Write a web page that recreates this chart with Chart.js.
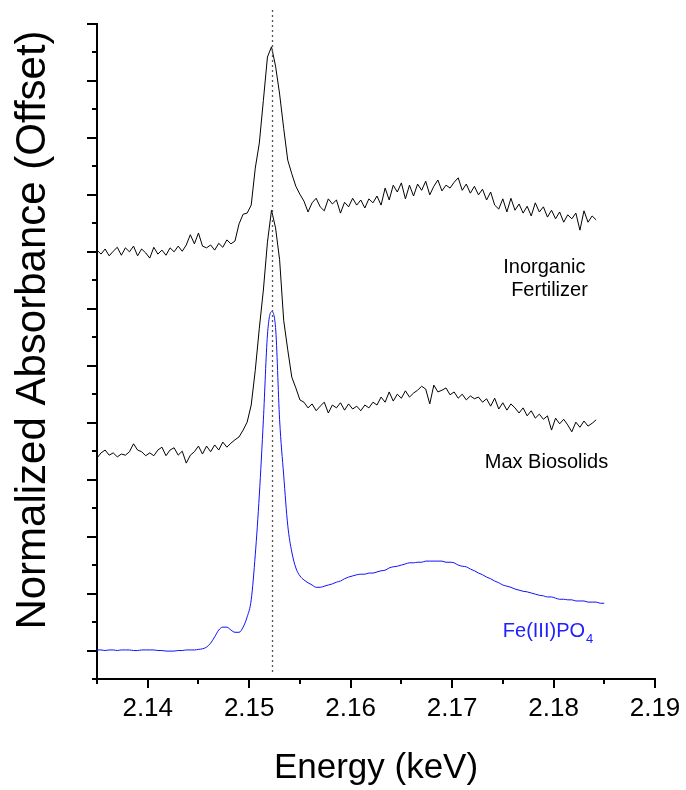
<!DOCTYPE html>
<html><head><meta charset="utf-8">
<script src="https://cdn.jsdelivr.net/npm/chart.js@4.4.1/dist/chart.umd.min.js"></script>
<style>html,body{margin:0;padding:0;background:#fff;}canvas{display:block;}</style>
</head><body>
<canvas id="c" width="686" height="790"></canvas>
<script>
// Energy grid (keV)
const energy = [
2.1350,2.1354,2.1358,2.1362,2.1366,2.1370,2.1374,2.1378,2.1382,2.1386,
2.1390,2.1394,2.1398,2.1402,2.1406,2.1410,2.1414,2.1418,2.1422,2.1426,
2.1430,2.1434,2.1438,2.1442,2.1446,2.1450,2.1454,2.1458,2.1462,2.1466,
2.1470,2.1474,2.1478,2.1482,2.1486,2.1490,2.1494,2.1498,2.1502,2.1506,
2.1510,2.1514,2.1518,2.1522,2.1526,2.1530,2.1534,2.1538,2.1542,2.1546,
2.1550,2.1554,2.1558,2.1562,2.1566,2.1570,2.1574,2.1578,2.1582,2.1586,
2.1590,2.1594,2.1598,2.1602,2.1606,2.1610,2.1614,2.1618,2.1622,2.1626,
2.1630,2.1634,2.1638,2.1642,2.1646,2.1650,2.1654,2.1658,2.1662,2.1666,
2.1670,2.1674,2.1678,2.1682,2.1686,2.1690,2.1694,2.1698,2.1702,2.1706,
2.1710,2.1714,2.1718,2.1722,2.1726,2.1730,2.1734,2.1738,2.1742,2.1746,
2.1750,2.1754,2.1758,2.1762,2.1766,2.1770,2.1774,2.1778,2.1782,2.1786,
2.1790,2.1794,2.1798,2.1802,2.1806,2.1810,2.1814,2.1818,2.1822,2.1826,
2.1830,2.1834,2.1838,2.1842,2.1846,2.1850
];
// Normalized absorbance (offset)
const inorganicFertilizer = [
7.03,6.96,7.05,6.93,7.01,7.08,6.94,7.07,7.00,7.10,
6.93,7.05,6.98,6.89,7.08,6.96,7.03,6.94,7.07,7.00,
7.10,7.01,7.12,7.30,7.14,7.33,7.10,7.07,7.12,7.03,
7.15,7.08,7.21,7.14,7.19,7.49,7.66,7.68,7.82,8.47,
8.91,9.66,10.42,10.60,10.26,9.77,9.17,8.61,8.37,8.15,
8.01,7.89,7.70,7.86,7.94,7.79,7.72,7.93,7.84,7.91,
7.68,7.87,7.79,7.94,7.82,7.91,7.77,7.93,7.86,7.98,
7.82,8.12,7.91,8.17,8.05,8.21,7.93,8.17,7.98,8.19,
8.08,8.24,8.00,8.15,8.26,8.07,8.17,8.12,8.22,8.30,
8.08,8.19,8.03,8.15,8.00,8.10,7.91,8.05,7.82,7.75,
7.93,7.70,7.94,7.73,7.84,7.68,7.80,7.63,7.86,7.70,
7.79,7.61,7.73,7.58,7.70,7.52,7.65,7.58,7.68,7.38,
7.72,7.52,7.63,7.56
];
const maxBiosolids = [
3.38,3.47,3.52,3.43,3.47,3.40,3.45,3.43,3.49,3.63,
3.52,3.49,3.42,3.47,3.42,3.52,3.57,3.42,3.52,3.56,
3.43,3.50,3.29,3.43,3.49,3.59,3.45,3.59,3.49,3.61,
3.52,3.66,3.57,3.64,3.70,3.75,3.87,4.01,4.31,4.92,
5.66,6.33,7.17,7.73,7.42,6.86,5.80,5.28,4.80,4.61,
4.40,4.36,4.26,4.33,4.21,4.29,4.36,4.17,4.31,4.26,
4.35,4.22,4.33,4.24,4.29,4.21,4.31,4.26,4.36,4.31,
4.45,4.36,4.54,4.38,4.50,4.43,4.56,4.45,4.52,4.57,
4.64,4.59,4.33,4.66,4.54,4.57,4.61,4.49,4.54,4.43,
4.50,4.40,4.47,4.42,4.45,4.36,4.42,4.29,4.43,4.24,
4.35,4.22,4.33,4.26,4.17,4.26,4.12,4.21,4.08,4.15,
4.06,4.12,3.87,4.08,3.98,4.06,3.96,3.84,4.01,3.92,
4.03,3.94,3.99,4.05
];
const fePO4 = [
0.01,0.01,0.00,0.01,0.01,0.00,0.01,0.01,0.01,0.00,
0.00,0.01,0.01,0.01,0.01,0.00,0.00,-0.01,-0.01,-0.01,
0.00,0.00,0.01,0.01,0.01,0.02,0.03,0.06,0.13,0.24,
0.36,0.41,0.41,0.36,0.32,0.32,0.41,0.59,0.89,1.68,
2.73,4.05,5.54,5.95,5.67,4.05,3.08,2.20,1.73,1.45,
1.31,1.24,1.19,1.15,1.11,1.11,1.13,1.15,1.17,1.20,
1.22,1.26,1.29,1.31,1.33,1.34,1.34,1.36,1.36,1.38,
1.40,1.41,1.45,1.47,1.48,1.50,1.52,1.54,1.54,1.55,
1.55,1.57,1.57,1.57,1.57,1.57,1.55,1.55,1.54,1.50,
1.48,1.47,1.43,1.40,1.36,1.33,1.29,1.26,1.22,1.19,
1.15,1.13,1.11,1.08,1.06,1.04,1.03,1.01,0.99,0.97,
0.96,0.94,0.94,0.92,0.90,0.90,0.89,0.89,0.87,0.87,
0.87,0.85,0.85,0.85,0.83,0.83
];
const xTickLabels = ['2.14','2.15','2.16','2.17','2.18','2.19'];
const seriesNames = ['Inorganic Fertilizer','Max Biosolids','Fe(III)PO4'];
const referenceEnergy = 2.1522;

const FONT = '"Liberation Sans", Arial, Helvetica, sans-serif';
const pts = (vals) => vals.map((v, i) => ({x: energy[i], y: v}));

const decor = {
  id: 'decor',
  afterDraw(chart) {
    const ctx = chart.ctx, xs = chart.scales.x, ys = chart.scales.y;
    const area = chart.chartArea;
    ctx.save();
    // ticks
    ctx.strokeStyle = '#000'; ctx.lineWidth = 2;
    xs.ticks.forEach(t => {
      const v = t.value;
      const major = Math.abs(v * 100 - Math.round(v * 100)) < 1e-6;
      const px = Math.round(xs.getPixelForValue(v));
      ctx.beginPath(); ctx.moveTo(px, area.bottom); ctx.lineTo(px, area.bottom + (major ? 9 : 5)); ctx.stroke();
    });
    ys.ticks.forEach(t => {
      const v = t.value;
      const major = Math.abs(v - Math.round(v)) < 1e-6;
      const py = Math.round(ys.getPixelForValue(v));
      ctx.beginPath(); ctx.moveTo(area.left, py); ctx.lineTo(area.left - (major ? 10 : 5), py); ctx.stroke();
    });
    // dotted reference line
    const dx = Math.round(xs.getPixelForValue(referenceEnergy)) + 0.5;
    ctx.strokeStyle = '#555'; ctx.lineWidth = 1.3; ctx.setLineDash([2, 3]);
    ctx.beginPath(); ctx.moveTo(dx, 10); ctx.lineTo(dx, 672); ctx.stroke();
    ctx.setLineDash([]);
    // series labels
    ctx.font = '20px ' + FONT; ctx.fillStyle = '#000'; ctx.textBaseline = 'middle'; ctx.textAlign = 'center';
    const parts = seriesNames[0].split(' ');
    ctx.fillText(parts[0], xs.getPixelForValue(2.1791), ys.getPixelForValue(6.72));
    ctx.fillText(parts[1], xs.getPixelForValue(2.1796), ys.getPixelForValue(6.33));
    ctx.fillText(seriesNames[1], xs.getPixelForValue(2.1793), ys.getPixelForValue(3.31));
    ctx.fillStyle = '#2020ff'; ctx.textAlign = 'left';
    const fx = xs.getPixelForValue(2.1750), fy = ys.getPixelForValue(0.33);
    const main = seriesNames[2].slice(0, -1), sub = seriesNames[2].slice(-1);
    ctx.fillText(main, fx, fy);
    const w = ctx.measureText(main).width;
    ctx.font = '13px ' + FONT;
    ctx.fillText(sub, fx + w + 1, fy + 8);
    // y title
    ctx.font = '42px ' + FONT; ctx.fillStyle = '#000'; ctx.textAlign = 'center';
    ctx.translate(33, 330); ctx.rotate(-Math.PI / 2);
    ctx.fillText('Normalized Absorbance (Offset)', 0, 0);
    ctx.restore();
  }
};

new Chart(document.getElementById('c'), {
  type: 'line',
  data: {
    datasets: [
      {label: seriesNames[0], data: pts(inorganicFertilizer), borderColor: '#000', borderWidth: 1, pointRadius: 0, tension: 0},
      {label: seriesNames[1], data: pts(maxBiosolids), borderColor: '#000', borderWidth: 1, pointRadius: 0, tension: 0},
      {label: seriesNames[2], data: pts(fePO4), borderColor: '#1010ff', borderWidth: 1, pointRadius: 0, cubicInterpolationMode: 'monotone'}
    ]
  },
  options: {
    responsive: false, animation: false, devicePixelRatio: 1,
    layout: {padding: {top: 24, right: 31, left: 0, bottom: 0}},
    plugins: {legend: {display: false}, tooltip: {enabled: false}},
    scales: {
      x: {
        type: 'linear', position: 'bottom', min: 2.135, max: 2.19,
        grid: {display: false, drawTicks: false},
        border: {display: true, color: '#000', width: 2},
        ticks: {
          stepSize: 0.005, autoSkip: false, maxRotation: 0, padding: 14,
          color: '#000', font: {family: FONT, size: 26},
          callback: (v) => { const l = Number(v).toFixed(2); return (Math.abs(v * 100 - Math.round(v * 100)) < 1e-6 && xTickLabels.includes(l)) ? l : ''; }
        },
        title: {display: true, text: 'Energy (keV)', color: '#000', font: {family: FONT, size: 35}, padding: {top: 0, bottom: 1}},
        afterFit: (s) => { s.height = 111; s.paddingLeft = 0; s.paddingRight = 0; }
      },
      y: {
        type: 'linear', min: -0.5, max: 11,
        grid: {display: false, drawTicks: false},
        border: {display: true, color: '#000', width: 2},
        ticks: {display: false, stepSize: 0.5},
        afterFit: (s) => { s.width = 97; s.paddingTop = 0; s.paddingBottom = 0; }
      }
    }
  },
  plugins: [decor]
});
</script>
</body></html>
